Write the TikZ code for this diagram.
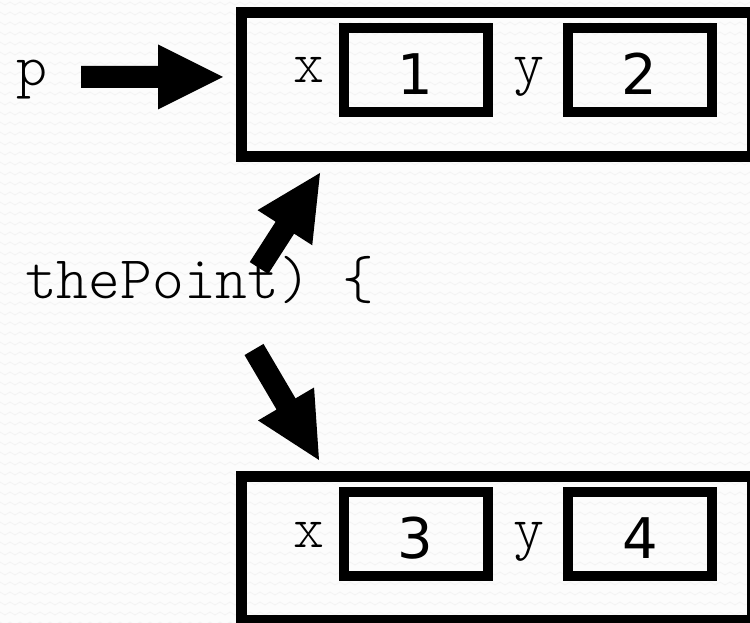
\documentclass[tikz,border=0pt]{standalone}
\usepackage{fontspec}
\newfontfamily\monofnt{Latin Modern Mono Light}
\newfontfamily\digitfnt{DejaVu Sans}
\usetikzlibrary{calc}
\definecolor{bgcol}{RGB}{252,252,252}
\definecolor{zigcol}{RGB}{243,243,243}
% fat block arrow from #1 (tail) to #2 (tip)
\newcommand\fatarrow[2]{%
  \coordinate (m) at ($(#2)!65pt!(#1)$);
  \fill[black] ($(#1)!11pt!90:(#2)$) -- ($(m)!11pt!-90:(#1)$) -- ($(m)!32.5pt!-90:(#1)$)
    -- (#2) -- ($(m)!32.5pt!90:(#1)$) -- ($(m)!11pt!90:(#1)$) -- ($(#1)!11pt!-90:(#2)$) -- cycle;}
\begin{document}
\begin{tikzpicture}[x=1pt,y=-1pt,
  objbox/.style={draw=black,line width=11pt,minimum width=511pt,minimum height=144.5pt,inner sep=0pt},
  valbox/.style={draw=black,line width=10pt,minimum width=144pt,minimum height=84pt,inner sep=0pt,
    font=\digitfnt\fontsize{56}{60}\selectfont,text height=49pt,text depth=0pt},
  field/.style={font=\monofnt\fontsize{59}{64}\selectfont,inner sep=0pt,anchor=base},
]
\useasboundingbox (0,0) rectangle (750,623);
\clip (0,0) rectangle (750,623);
\fill[bgcol] (0,0) rectangle (750,623);
\foreach \r in {2,12,...,622}
  \draw[zigcol,line width=0.8pt] (0,\r) \foreach \c in {0,10,...,740} { -- ++(5,3) -- ++(5,-3) };

% top object
\node[objbox] (objA) at (497,84.75) {};
\node[field] (xA) at (309,83) {x};
\node[valbox] (v1) at (415.75,70) {1};
\node[field] (yA) at (529,83) {y};
\node[valbox] (v2) at (639.75,70) {2};

% bottom object
\node[objbox] (objB) at (496.75,548.5) {};
\node[field] (xB) at (309,547) {x};
\node[valbox] (v3) at (415.75,533.75) {3};
\node[field] (yB) at (529,547) {y};
\node[valbox] (v4) at (640,533.75) {4};

% labels
\node[field] (p) at (32,86) {p};
\node[field,anchor=base west,font=\monofnt\fontsize{60.5}{64}\selectfont] (tp) at (25,298) {thePoint)\ \{};

% arrows
\coordinate (a1s) at (81,77);
\coordinate (a1e) at (223,77);
\coordinate (a2s) at (259,268);
\coordinate (a2e) at (320,173);
\coordinate (a3s) at (254,349.5);
\coordinate (a3e) at (319,460);
\fatarrow{a1s}{a1e}
\fatarrow{a2s}{a2e}
\fatarrow{a3s}{a3e}
\end{tikzpicture}
\end{document}
